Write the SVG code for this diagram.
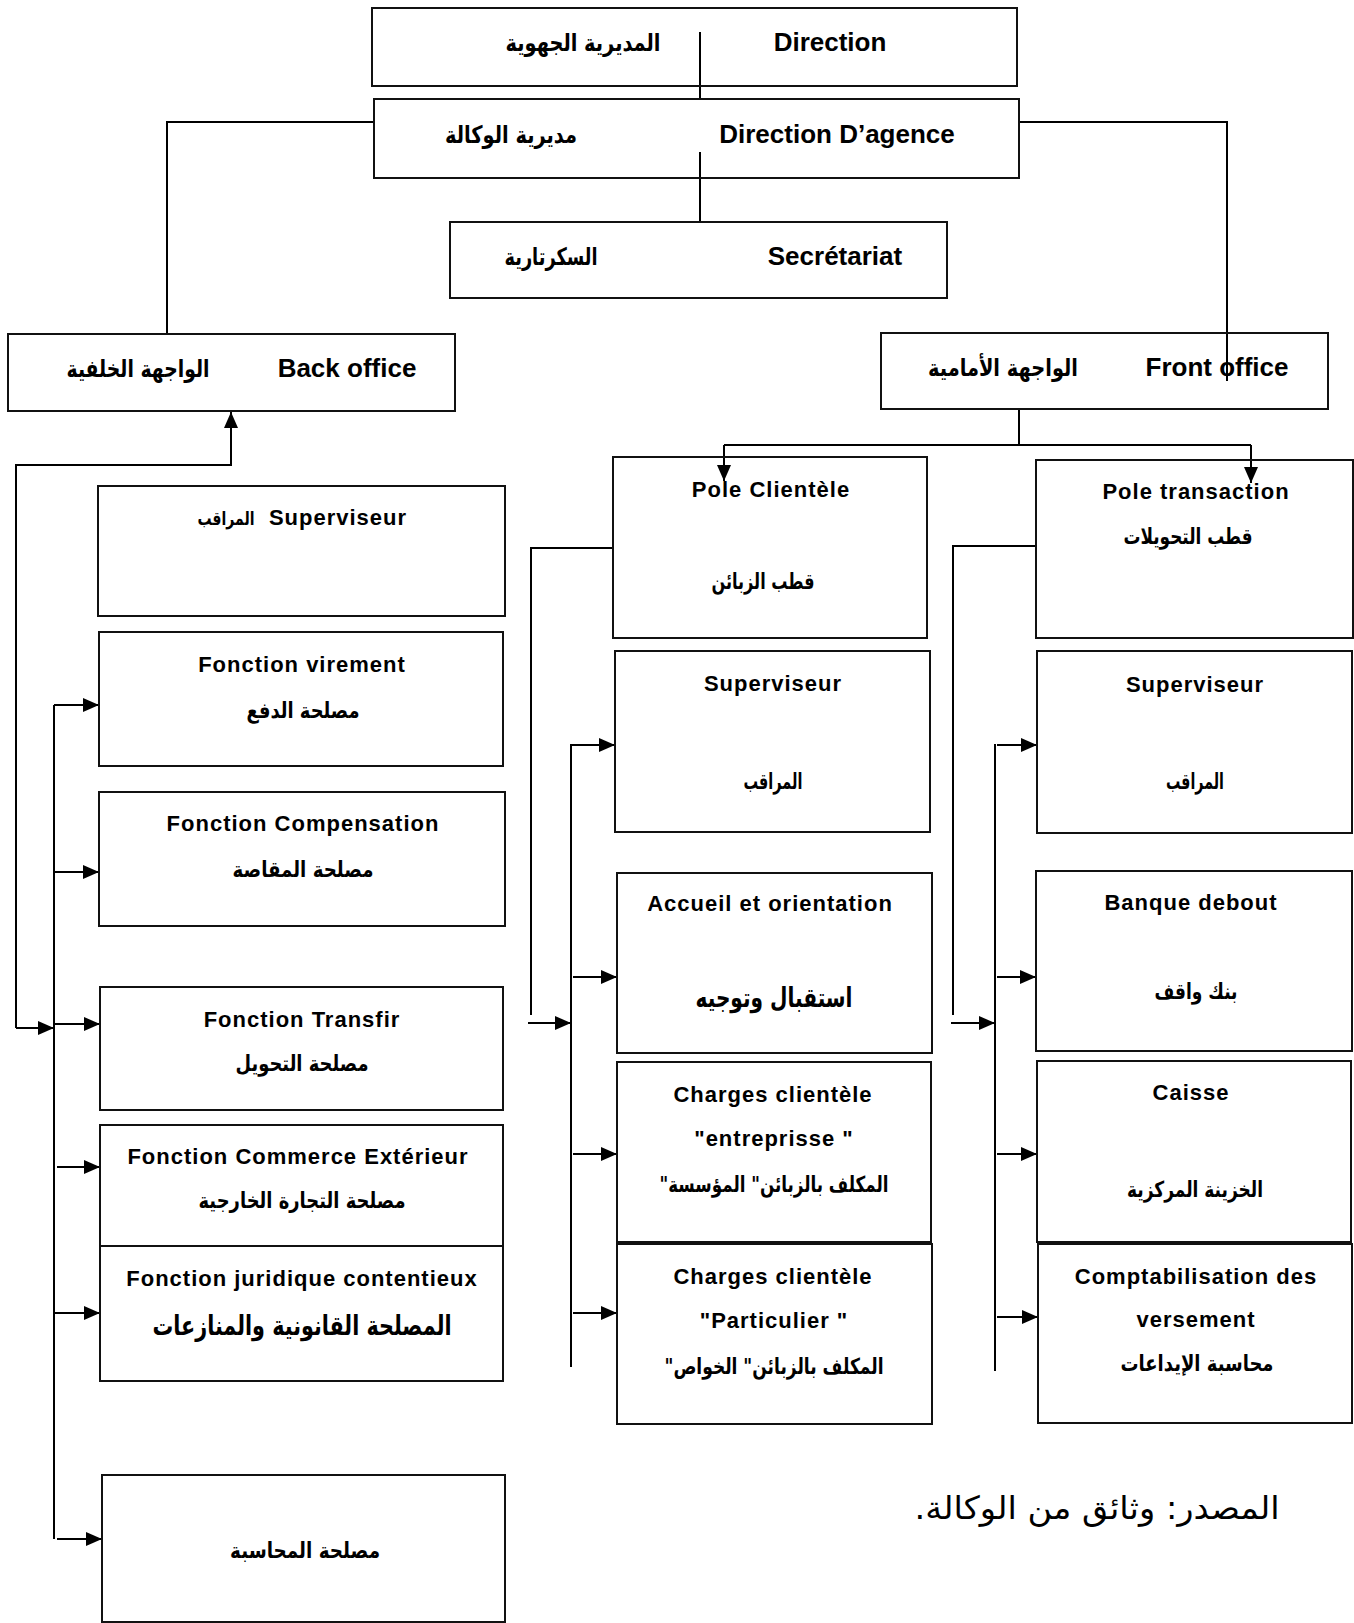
<svg xmlns="http://www.w3.org/2000/svg" width="1354" height="1623" viewBox="0 0 1354 1623">
<style>
.box{fill:#fff;stroke:#111;stroke-width:2}
.hd{font-family:"Liberation Sans",Arial,sans-serif;font-weight:bold;font-size:26px;fill:#000;text-anchor:middle}
.tx{font-family:"Liberation Sans",Arial,sans-serif;font-weight:bold;font-size:22px;letter-spacing:1px;fill:#000;text-anchor:middle}
.ar{font-family:"DejaVu Sans",sans-serif;font-weight:bold;font-size:22px;fill:#000;text-anchor:middle;direction:rtl;unicode-bidi:embed}
.arh{font-family:"DejaVu Sans",sans-serif;font-weight:bold;font-size:24px;fill:#000;text-anchor:middle;direction:rtl;unicode-bidi:embed}
.arb{font-family:"DejaVu Sans",sans-serif;font-weight:bold;font-size:27px;fill:#000;text-anchor:middle;direction:rtl;unicode-bidi:embed}
.src{font-family:"DejaVu Sans",sans-serif;font-weight:normal;font-size:32px;fill:#000;text-anchor:middle;direction:rtl;unicode-bidi:embed}
.ln{fill:none;stroke:#000;stroke-width:2}
.ar-l{fill:none;stroke:#000;stroke-width:2;marker-end:url(#ah)}
</style>
<defs>
<marker id="ah" markerUnits="userSpaceOnUse" markerWidth="16" markerHeight="14" refX="16" refY="7" orient="auto">
<path d="M0,0 L16,7 L0,14 z" fill="#000"/>
</marker>
</defs>

<g id="connectors">
<path class="ln" d="M700,32 V99"/>
<path class="ln" d="M700,152 V222"/>
<path class="ln" d="M374,122 H167 V334"/>
<path class="ln" d="M1019,122 H1227 V381"/>
<path class="ln" d="M1019,409 V445"/>
<path class="ln" d="M724,445 H1251"/>
<path class="ar-l" d="M724,445 V481"/>
<path class="ar-l" d="M1251,445 V483"/>
<path class="ar-l" d="M16,1028 V465 H231 V412"/>
<path class="ar-l" d="M16,1028 H54"/>
<path class="ln" d="M54,705 V1539"/>
<path class="ar-l" d="M54,705 H99"/>
<path class="ar-l" d="M54,872 H99"/>
<path class="ar-l" d="M54,1024 H100"/>
<path class="ar-l" d="M57,1167 H100"/>
<path class="ar-l" d="M54,1313 H100"/>
<path class="ar-l" d="M57,1539 H102"/>
<path class="ln" d="M613,548 H531 V1015"/>
<path class="ar-l" d="M528,1023 H571"/>
<path class="ln" d="M571,744 V1367"/>
<path class="ar-l" d="M571,745 H615"/>
<path class="ar-l" d="M573,977 H617"/>
<path class="ar-l" d="M573,1154 H617"/>
<path class="ar-l" d="M573,1313 H617"/>
<path class="ln" d="M1036,546 H953 V1015"/>
<path class="ar-l" d="M951,1023 H995"/>
<path class="ln" d="M995,744 V1371"/>
<path class="ar-l" d="M997,745 H1037"/>
<path class="ar-l" d="M997,977 H1036"/>
<path class="ar-l" d="M997,1154 H1037"/>
<path class="ar-l" d="M997,1317 H1038"/>
</g>

<g id="direction">
<rect class="box" x="372" y="8" width="645" height="78" fill-opacity="0"/>
<text class="hd" x="830" y="51">Direction</text>
<text class="arh" x="583" y="51" textLength="155" lengthAdjust="spacingAndGlyphs">المديرية الجهوية</text>
</g>
<g id="agence">
<rect class="box" x="374" y="99" width="645" height="79" fill-opacity="0"/>
<text class="hd" x="837" y="143">Direction D’agence</text>
<text class="arh" x="511" y="143" textLength="132" lengthAdjust="spacingAndGlyphs">مديرية الوكالة</text>
</g>
<g id="secretariat">
<rect class="box" x="450" y="222" width="497" height="76"/>
<text class="hd" x="835" y="265">Secrétariat</text>
<text class="arh" x="551" y="265" textLength="93" lengthAdjust="spacingAndGlyphs">السكرتارية</text>
</g>
<g id="back-office">
<rect class="box" x="8" y="334" width="447" height="77"/>
<text class="hd" x="347" y="377">Back office</text>
<text class="arh" x="138" y="377" textLength="143" lengthAdjust="spacingAndGlyphs">الواجهة الخلفية</text>
</g>
<g id="front-office">
<rect class="box" x="881" y="333" width="447" height="76" fill-opacity="0"/>
<text class="hd" x="1217" y="376">Front office</text>
<text class="arh" x="1003" y="376" textLength="150" lengthAdjust="spacingAndGlyphs">الواجهة الأمامية</text>
</g>

<g id="bo-superviseur">
<rect class="box" x="98" y="486" width="407" height="130"/>
<text class="tx" x="338" y="525">Superviseur</text>
<text class="ar" x="226" y="525" style="font-size:19px" textLength="57" lengthAdjust="spacingAndGlyphs">المراقب</text>
</g>
<g id="fonction-virement">
<rect class="box" x="99" y="632" width="404" height="134"/>
<text class="tx" x="302" y="672">Fonction virement</text>
<text class="ar" x="303" y="718" textLength="113" lengthAdjust="spacingAndGlyphs">مصلحة الدفع</text>
</g>
<g id="fonction-compensation">
<rect class="box" x="99" y="792" width="406" height="134"/>
<text class="tx" x="303" y="831">Fonction Compensation</text>
<text class="ar" x="303" y="877" textLength="141" lengthAdjust="spacingAndGlyphs">مصلحة المقاصة</text>
</g>
<g id="fonction-transfir">
<rect class="box" x="100" y="987" width="403" height="123"/>
<text class="tx" x="302" y="1027">Fonction Transfir</text>
<text class="ar" x="302" y="1071" textLength="133" lengthAdjust="spacingAndGlyphs">مصلحة التحويل</text>
</g>
<g id="fonction-commerce">
<rect class="box" x="100" y="1125" width="403" height="121"/>
<text class="tx" x="298" y="1164">Fonction Commerce Extérieur</text>
<text class="ar" x="302" y="1208" textLength="207" lengthAdjust="spacingAndGlyphs">مصلحة التجارة الخارجية</text>
</g>
<g id="fonction-juridique">
<rect class="box" x="100" y="1246" width="403" height="135"/>
<text class="tx" x="302" y="1286">Fonction juridique contentieux</text>
<text class="arb" x="302" y="1335" textLength="299" lengthAdjust="spacingAndGlyphs">المصلحة القانونية والمنازعات</text>
</g>
<g id="comptabilite">
<rect class="box" x="102" y="1475" width="403" height="147"/>
<text class="ar" x="305" y="1558" textLength="150" lengthAdjust="spacingAndGlyphs">مصلحة المحاسبة</text>
</g>

<g id="pole-clientele">
<rect class="box" x="613" y="457" width="314" height="181" fill-opacity="0"/>
<text class="tx" x="771" y="497">Pole Clientèle</text>
<text class="ar" x="763" y="589" textLength="103" lengthAdjust="spacingAndGlyphs">قطب الزبائن</text>
</g>
<g id="pc-superviseur">
<rect class="box" x="615" y="651" width="315" height="181"/>
<text class="tx" x="773" y="691">Superviseur</text>
<text class="ar" x="773" y="789" textLength="59" lengthAdjust="spacingAndGlyphs">المراقب</text>
</g>
<g id="accueil">
<rect class="box" x="617" y="873" width="315" height="180"/>
<text class="tx" x="770" y="911">Accueil et orientation</text>
<text class="arb" x="774" y="1007" textLength="157" lengthAdjust="spacingAndGlyphs">استقبال وتوجيه</text>
</g>
<g id="charges-entreprise">
<rect class="box" x="617" y="1062" width="314" height="180"/>
<text class="tx" x="773" y="1102">Charges clientèle</text>
<text class="tx" x="774" y="1146">"entreprisse "</text>
<text class="ar" x="774" y="1192" textLength="229" lengthAdjust="spacingAndGlyphs">المكلف بالزبائن" المؤسسة"</text>
</g>
<g id="charges-particulier">
<rect class="box" x="617" y="1244" width="315" height="180"/>
<text class="tx" x="773" y="1284">Charges clientèle</text>
<text class="tx" x="774" y="1328">"Particulier "</text>
<text class="ar" x="774" y="1374" textLength="219" lengthAdjust="spacingAndGlyphs">المكلف بالزبائن" الخواص"</text>
</g>

<g id="pole-transaction">
<rect class="box" x="1036" y="460" width="317" height="178" fill-opacity="0"/>
<text class="tx" x="1196" y="499">Pole transaction</text>
<text class="ar" x="1188" y="544" textLength="129" lengthAdjust="spacingAndGlyphs">قطب التحويلات</text>
</g>
<g id="pt-superviseur">
<rect class="box" x="1037" y="651" width="315" height="182"/>
<text class="tx" x="1195" y="692">Superviseur</text>
<text class="ar" x="1195" y="789" textLength="58" lengthAdjust="spacingAndGlyphs">المراقب</text>
</g>
<g id="banque-debout">
<rect class="box" x="1036" y="871" width="316" height="180"/>
<text class="tx" x="1191" y="910">Banque debout</text>
<text class="ar" x="1196" y="999" textLength="83" lengthAdjust="spacingAndGlyphs">بنك واقف</text>
</g>
<g id="caisse">
<rect class="box" x="1037" y="1061" width="314" height="181"/>
<text class="tx" x="1191" y="1100">Caisse</text>
<text class="ar" x="1195" y="1197" textLength="136" lengthAdjust="spacingAndGlyphs">الخزينة المركزية</text>
</g>
<g id="comptabilisation">
<rect class="box" x="1038" y="1244" width="314" height="179"/>
<text class="tx" x="1196" y="1284">Comptabilisation des</text>
<text class="tx" x="1196" y="1327">versement</text>
<text class="ar" x="1197" y="1371" textLength="153" lengthAdjust="spacingAndGlyphs">محاسبة الإيداعات</text>
</g>

<text class="src" x="1097" y="1519" textLength="365" lengthAdjust="spacingAndGlyphs">المصدر: وثائق من الوكالة.</text>
</svg>
